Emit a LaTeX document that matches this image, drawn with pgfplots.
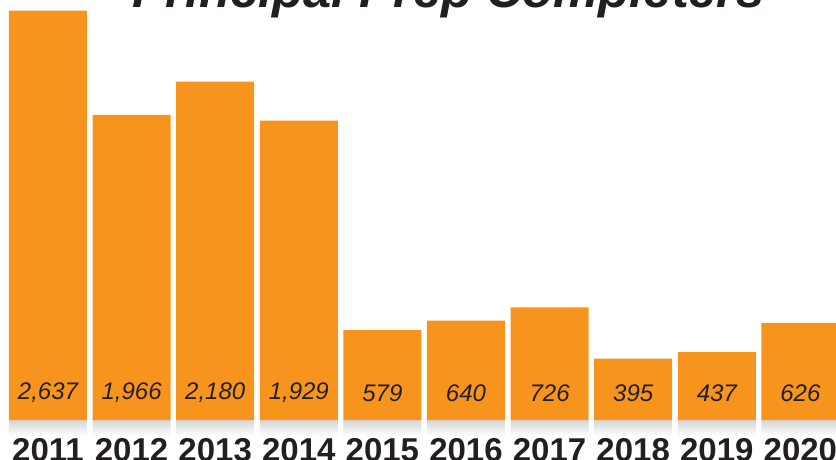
\documentclass[border=0pt]{standalone}
\usepackage{pgfplots}
\pgfplotsset{compat=1.18}
\usepackage{pgfplotstable}
\usepackage{fontspec}
\setmainfont{Liberation Sans}
\definecolor{barorange}{HTML}{F7941D}
\definecolor{textc}{HTML}{231F20}
\definecolor{shadowgray}{HTML}{D4D5D7}
\pgfplotstableread{
x val
0 2637
1 1966
2 2180
3 1929
4 579
5 640
6 726
7 395
8 437
9 626
}\bars
\pgfplotstableread{
x y label
0 174 {2,637}
1 174 {1,966}
2 174 {2,180}
3 174 {1,929}
4 174 {579}
5 174 {640}
6 174 {726}
7 174 {395}
8 174 {437}
9 174 {626}
}\labels
\pgfplotstableread{
x val
0 -103
1 -103
2 -103
3 -103
4 -103
5 -103
6 -103
7 -103
8 -103
9 -103
}\shadow
\begin{document}
\begin{tikzpicture}
\useasboundingbox (0,0) rectangle (836pt,459pt);
\clip (0,0) rectangle (836pt,459pt);
\begin{axis}[
  at={(0pt,0pt)}, anchor=south west,
  scale only axis, width=836pt, height=459pt,
  xmin=-0.574, xmax=9.426,
  ymin=-251.3, ymax=2706.2,
  axis line style={draw=none},
  tick style={draw=none},
  ytick=\empty,
  xtick={0,...,9},
  xticklabels={2011,2012,2013,2014,2015,2016,2017,2018,2019,2020},
  xticklabel style={anchor=base, yshift=-2pt, font=\fontsize{33}{36}\selectfont\bfseries, text=textc},
  title={Principal Prep Completers},
  title style={at={(0.5365,1)}, anchor=base, yshift=-14pt, font=\fontsize{50.6}{60}\selectfont\bfseries\itshape, text=textc},
  clip=false,
]
\addplot[ybar, bar shift=0pt, bar width=0.933, draw=none, shading=axis, top color=shadowgray, bottom color=white] table[x=x, y=val] \shadow;
\addplot[ybar, bar shift=0pt, bar width=0.933, draw=none, fill=barorange] table[x=x, y=val] \bars;
\addplot[draw=none, mark=none, nodes near coords, point meta=explicit symbolic,
  nodes near coords style={anchor=center, font=\fontsize{24}{28}\selectfont\itshape, text=textc}]
  table[x=x, y=y, meta=label] \labels;
\end{axis}
\end{tikzpicture}
\end{document}
